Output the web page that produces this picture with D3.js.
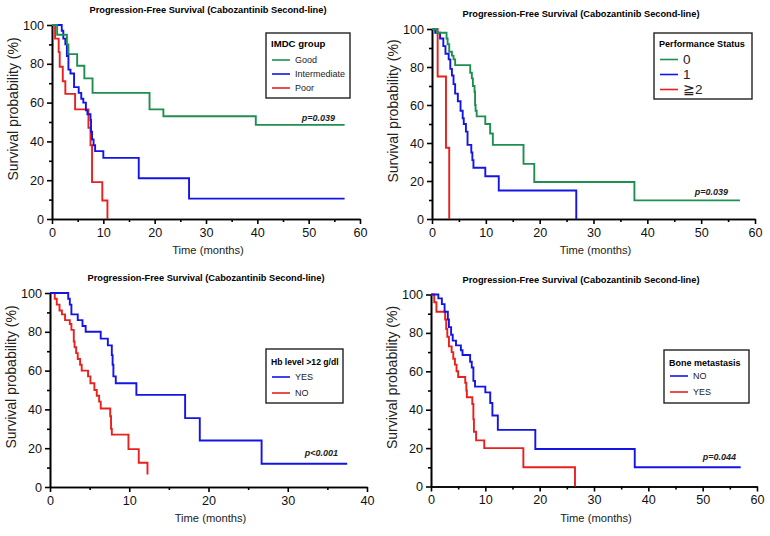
<!DOCTYPE html>
<html>
<head>
<meta charset="utf-8">
<script src="https://cdn.jsdelivr.net/npm/d3@7"></script>
<style>
  body { margin: 0; background: #fff; }
  svg { font-family: "Liberation Sans", Arial, sans-serif; }
  .axis path, .axis line { stroke: #000; stroke-width: 1.6; }
  .axis text { font-size: 12.6px; fill: #111; }
</style>
</head>
<body>
<div id="chart"></div>
<script>
// Kaplan-Meier step points [time (months), survival %]

// Panel A - IMDC group
var imdcGood = [[0,100],[1.0,95],[2.9,90],[3.2,85],[4.9,79],[6.3,72.5],[7.9,65],[19.0,56.5],[21.7,53],[39.7,48.5],[57,48.5]];
var imdcIntermediate = [[0,100],[1.9,97],[2.2,93],[2.6,90],[2.9,84],[3.2,77],[3.6,75],[4.3,68],[5.2,65],[5.7,62],[6.1,60],[6.6,56],[6.9,54],[7.5,51],[7.6,45],[7.8,41],[8.1,38],[8.4,35],[10.0,31.5],[16.9,21],[26.7,10.5],[57,10.5]];
var imdcPoor = [[0,100],[0.6,93],[1.3,86],[1.5,78.5],[2.1,71],[2.6,64.5],[4.5,56.5],[7.1,47],[7.5,38],[7.8,19],[9.8,9.5],[10.8,0]];

// Panel B - Performance status
var ps0 = [[0,100],[0.9,98],[2.7,95],[2.9,92],[3.2,88],[3.7,86],[4.0,84],[4.3,81],[7.1,77],[7.4,74],[7.6,70],[7.9,67],[8.0,60],[8.1,57],[8.3,54],[9.9,50],[10.8,45],[11.3,39],[17.0,29],[19.0,19.5],[37.6,9.8],[57.2,9.8]];
var ps1 = [[0,100],[0.6,98],[1.5,95],[2.1,91],[2.5,87],[3.1,84],[3.4,79],[3.7,75.5],[4.0,71],[4.3,66],[4.8,62],[5.3,57],[5.7,53],[5.9,50],[6.3,46],[6.6,39],[7.3,35],[7.5,31],[7.7,27],[9.9,22.5],[12.4,15],[26.8,0]];
var ps2 = [[0,100],[1.05,75],[2.6,37.5],[3.2,0]];

// Panel C - Hb level >12 g/dl
var hbYes = [[0,100],[2.3,97],[2.5,94],[2.7,89],[3.5,86],[4.1,83],[4.5,80],[6.4,76.5],[7.3,73],[7.8,68],[7.9,63],[8.0,57],[8.3,53.5],[10.9,47.5],[17.05,35.5],[18.9,24],[26.7,12],[37.5,12]];
var hbNo = [[0,100],[0.6,97],[0.85,94],[1.2,91],[1.5,89],[1.9,86],[2.5,84],[2.7,81],[3.0,75],[3.1,72],[3.3,69],[3.5,66],[3.8,63],[4.0,60],[4.8,57],[5.1,53.5],[5.6,50],[5.9,47],[6.2,44],[6.4,40.5],[7.6,36.5],[7.7,30],[7.8,27],[9.9,19.5],[11.2,12.5],[12.3,6.5]];

// Panel D - Bone metastasis
var boneNo = [[0,100],[1.35,98],[2.0,95],[2.5,91],[3.1,87],[3.3,83],[3.7,79],[4.0,76],[4.6,73.5],[5.5,71],[5.8,68.5],[7.2,65],[7.5,62],[7.8,55],[8.1,52],[10.0,49],[10.9,43.5],[11.3,37],[12.3,29.5],[19.2,19.5],[37.5,10],[57,10]];
var boneYes = [[0,100],[0.6,96],[1.0,91],[2.6,87],[2.8,82],[3.0,78],[3.3,73],[3.8,70],[4.1,66.5],[4.4,63.5],[4.7,60],[5.0,57],[6.3,54],[6.5,50],[6.6,46.5],[7.6,43],[7.8,35],[7.9,28.5],[8.3,24],[9.8,20],[17.0,10],[26.5,0]];

var title = "Progression-Free Survival (Cabozantinib Second-line)";
var xTicks60 = [0, 10, 20, 30, 40, 50, 60];
var xTicks40 = [0, 10, 20, 30, 40];
var yTicks = [0, 20, 40, 60, 80, 100];

var GREEN = "#1f8f50", BLUE = "#1414e6", RED = "#e8201e";

var width = 770, height = 536;
var svg = d3.select("#chart").append("svg")
  .attr("width", width)
  .attr("height", height);

// layout of each panel (plot area in page pixels)
var panels = [
  { x0: 52, x1: 360, y0: 25, y1: 219, xMax: 60, xTicks: xTicks60, titleX: 208,
    legend: { x: 266, y: 33, w: 84, h: 65, title: "IMDC group", tSize: 9.6, ty: 13.5, first: 27, step: 14, size: 9 },
    series: [["Good", imdcGood, GREEN], ["Intermediate", imdcIntermediate, BLUE], ["Poor", imdcPoor, RED]],
    p: { text: "p=0.039", x: 335, y: 120.5 } },
  { x0: 432, x1: 755, y0: 29, y1: 219, xMax: 60, xTicks: xTicks60, titleX: 581,
    legend: { x: 654, y: 33, w: 98, h: 66, title: "Performance Status", tSize: 9.1, ty: 13.5, first: 26.5, step: 15, size: 13.5 },
    series: [["0", ps0, GREEN], ["1", ps1, BLUE], ["\u22672", ps2, RED]],
    p: { text: "p=0.039", x: 728, y: 194.5 } },
  { x0: 50, x1: 367, y0: 293, y1: 487, xMax: 40, xTicks: xTicks40, titleX: 206,
    legend: { x: 266, y: 349, w: 77, h: 54, title: "Hb level >12 g/dl", tSize: 8.6, ty: 16, first: 28, step: 16, size: 9 },
    series: [["YES", hbYes, BLUE], ["NO", hbNo, RED]],
    p: { text: "p<0.001", x: 338, y: 455.5 } },
  { x0: 431, x1: 757, y0: 294.5, y1: 486.5, xMax: 60, xTicks: xTicks60, titleX: 581,
    legend: { x: 664, y: 350, w: 85, h: 53, title: "Bone metastasis", tSize: 9, ty: 15.5, first: 26, step: 16, size: 9 },
    series: [["NO", boneNo, BLUE], ["YES", boneYes, RED]],
    p: { text: "p=0.044", x: 736, y: 459.5 } }
];

panels.forEach(function(pn) {
  var g = svg.append("g");

  var x = d3.scaleLinear().domain([0, pn.xMax]).range([pn.x0, pn.x1]);
  var y = d3.scaleLinear().domain([0, 100]).range([pn.y1, pn.y0]);

  // title
  g.append("text")
    .attr("x", pn.titleX)
    .attr("y", pn.y0 - 12)
    .attr("text-anchor", "middle")
    .style("font-size", "9.25px")
    .style("font-weight", "bold")
    .text(title);

  // minor ticks
  var xMinor = d3.range(5, pn.xMax, 10);
  g.append("g").attr("class", "axis")
    .attr("transform", `translate(0, ${pn.y1})`)
    .call(d3.axisBottom(x).tickValues(xMinor).tickSize(3).tickSizeOuter(0).tickFormat(""));
  g.append("g").attr("class", "axis")
    .attr("transform", `translate(${pn.x0}, 0)`)
    .call(d3.axisLeft(y).tickValues([10, 30, 50, 70, 90]).tickSize(3).tickSizeOuter(0).tickFormat(""));

  // major axes
  g.append("g").attr("class", "axis")
    .attr("transform", `translate(0, ${pn.y1})`)
    .call(d3.axisBottom(x).tickValues(pn.xTicks).tickSize(5).tickSizeOuter(0).tickPadding(4));
  g.append("g").attr("class", "axis")
    .attr("transform", `translate(${pn.x0}, 0)`)
    .call(d3.axisLeft(y).tickValues(yTicks).tickSize(5).tickSizeOuter(0).tickPadding(3));

  // axis labels
  g.append("text")
    .attr("x", (pn.x0 + pn.x1) / 2 + 2)
    .attr("y", pn.y1 + 35)
    .attr("text-anchor", "middle")
    .style("font-size", "11.2px")
    .style("fill", "#222")
    .text("Time (months)");
  g.append("text")
    .attr("transform", `translate(${pn.x0 - 34}, ${(pn.y0 + pn.y1) / 2 - 13}) rotate(-90)`)
    .attr("text-anchor", "middle")
    .style("font-size", "14px")
    .style("fill", "#222")
    .text("Survival probability (%)");

  // curves
  var line = d3.line()
    .x(function(d) { return x(d[0]); })
    .y(function(d) { return y(d[1]); })
    .curve(d3.curveStepAfter);

  pn.series.slice().reverse().forEach(function(s) {
    g.append("path")
      .datum(s[1])
      .attr("d", line)
      .attr("fill", "none")
      .attr("stroke", s[2])
      .attr("stroke-width", 1.9);
  });

  // p value
  g.append("text")
    .attr("x", pn.p.x)
    .attr("y", pn.p.y)
    .attr("text-anchor", "end")
    .style("font-size", "9px")
    .style("font-weight", "bold")
    .style("font-style", "italic")
    .style("fill", "#222")
    .text(pn.p.text);

  // legend
  var L = pn.legend;
  var lg = g.append("g").attr("transform", `translate(${L.x}, ${L.y})`);
  lg.append("rect")
    .attr("width", L.w).attr("height", L.h)
    .attr("fill", "#fff").attr("stroke", "#222").attr("stroke-width", 1.4);
  lg.append("text")
    .attr("x", 5).attr("y", L.ty)
    .style("font-size", L.tSize + "px")
    .style("font-weight", "bold")
    .text(L.title);
  pn.series.forEach(function(s, i) {
    var yy = L.first + i * L.step;
    lg.append("line")
      .attr("x1", 6).attr("x2", 24)
      .attr("y1", yy).attr("y2", yy)
      .attr("stroke", s[2]).attr("stroke-width", 1.6);
    lg.append("text")
      .attr("x", 29).attr("y", yy)
      .attr("dy", "0.35em")
      .style("font-size", L.size + "px")
      .style("fill", "#222")
      .text(s[0]);
  });
});
</script>
</body>
</html>
